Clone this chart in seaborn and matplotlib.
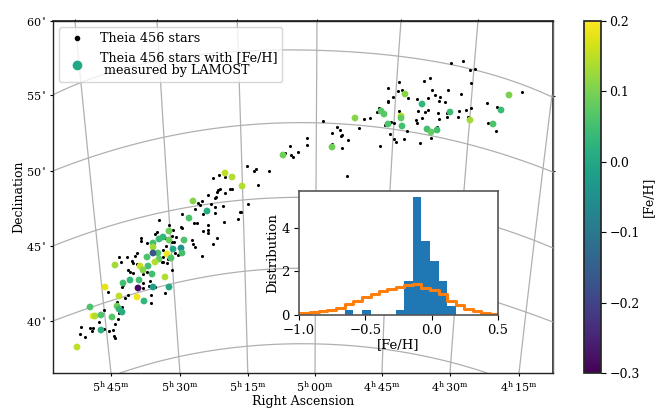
import numpy as np
import seaborn as sns
import matplotlib.pyplot as plt
from matplotlib.cm import ScalarMappable
from matplotlib.colors import Normalize
from matplotlib.lines import Line2D

# All sky positions are WCS pixel coordinates of the projected map
star_x = [159, 182, 197, 224, 208, 203, 208, 208, 213, 217, 192, 193, 195, 202, 176, 172, 173, 181, 157, 155,
          141, 141, 151, 152, 137, 135, 119, 127, 121, 132, 133, 137, 128, 130, 133, 140, 147, 143, 143, 150,
          149, 143, 155, 165, 172, 108, 122, 123, 151, 151, 128, 125, 104, 119, 122, 117, 118, 115, 81, 90,
          93, 92, 104, 109, 113, 80, 85, 114, 115, 99, 163, 163, 167, 162, 168, 175, 178, 183, 163, 172, 166,
          247, 256, 254, 269, 258, 213, 219, 225, 218, 220, 217, 225, 230, 232, 208, 215, 216, 202, 198, 200,
          211, 215, 223, 195, 203, 215, 240, 241, 248, 238, 194, 182, 169, 147, 163, 165, 174,
          290, 291, 293, 298, 285,
          451, 463, 470, 475, 471, 430, 424, 399, 388, 402, 398, 408, 393, 388, 388, 432, 435, 440, 428, 439,
          445, 448, 461, 417, 522, 487, 497, 471, 466, 459, 458, 447, 468, 447, 438, 439, 428, 425, 418, 422,
          416, 417, 399, 379, 377, 370, 364, 359, 323, 337, 340, 342, 341, 332, 348, 307, 307, 342, 347, 380,
          390, 394, 396, 404, 407, 394, 391, 385, 420, 431, 437, 488, 496, 332]
star_y = [220, 214, 223, 222, 225, 231, 230, 233, 244, 238, 240, 244, 247, 256, 237, 236, 230, 227, 232, 234,
          238, 241, 242, 250, 253, 256, 257, 257, 262, 261, 263, 264, 270, 272, 273, 267, 272, 274, 283, 281,
          286, 288, 287, 293, 270, 292, 287, 285, 295, 303, 295, 298, 310, 313, 307, 302, 319, 324, 327, 328,
          328, 331, 329, 331, 330, 334, 337, 336, 338, 322, 257, 262, 263, 262, 259, 253, 255, 253, 250, 242, 246,
          166, 169, 171, 171, 185, 178, 175, 177, 190, 189, 192, 193, 189, 189, 195, 198, 197, 201, 203, 205,
          204, 207, 206, 209, 214, 213, 212, 212, 204, 219, 223, 228, 225, 243, 235, 238, 242,
          146, 155, 157, 152, 153,
          63, 61, 70, 69, 83, 78, 81, 82, 88, 90, 91, 98, 97, 101, 102, 90, 95, 97, 98, 101,
          102, 90, 94, 99, 92, 103, 107, 108, 110, 111, 117, 117, 117, 113, 113, 119, 110, 112, 111, 118,
          120, 123, 111, 108, 112, 118, 119, 128, 121, 127, 130, 135, 136, 133, 140, 138, 145, 148, 176, 146,
          134, 139, 142, 139, 131, 123, 122, 125, 143, 138, 127, 123, 131, 144]

lamost_x = [405, 422, 450, 355, 381, 384, 401, 401, 388, 402, 427, 431, 437, 470, 493, 501, 509, 332, 283,
            225, 232, 242, 193, 207, 189, 169, 163, 159, 153, 169, 184, 153, 181, 173, 158, 153, 182, 167,
            147, 171, 159, 155, 115, 148, 140, 143, 152, 165, 139, 130, 123, 105, 153, 169, 138, 119, 137,
            144, 90, 117, 119, 122, 93, 95, 101, 112, 101, 77]
lamost_y = [94, 104, 112, 118, 111, 114, 116, 118, 124, 126, 129, 132, 130, 120, 124, 110, 95, 147, 155,
            173, 177, 186, 201, 211, 218, 231, 237, 239, 243, 240, 240, 247, 248, 249, 253, 253, 253, 254,
            257, 258, 259, 262, 265, 266, 266, 270, 274, 277, 280, 280, 283, 287, 287, 287, 288, 296, 297,
            301, 307, 306, 309, 312, 316, 316, 315, 317, 330, 347]
lamost_feh = [0.11, 0.03, 0.04, 0.11, 0.07, 0.07, 0.15, 0.08, 0.06, 0.05, 0.05, 0.08, 0.05, 0.13, 0.06, 0.04, 0.10, 0.09, 0.09,
              0.15, 0.14, 0.14, 0.11, 0.01, 0.06, 0.09, 0.03, 0.04, 0.05, 0.09, 0.06, 0.13, -0.05, 0.00, 0.06, -0.17, 0.05, 0.19,
              0.06, 0.06, 0.08, 0.14, 0.13, 0.05, 0.16, 0.11, 0.05, 0.14, 0.05, 0.03, 0.05, 0.18, -0.02, 0.00, -0.29, 0.15, 0.19,
              0.03, 0.06, 0.09, 0.03, 0.01, 0.19, 0.14, 0.06, 0.07, 0.02, 0.15]

# Histogram bins and heights of the inset
feh_edges = [-1.0, -0.917, -0.852, -0.787, -0.722, -0.656, -0.591, -0.526, -0.46, -0.4, -0.334, -0.271,
             -0.206, -0.141, -0.078, -0.013, 0.053, 0.116, 0.18, 0.244, 0.309, 0.372, 0.437, 0.5]
cluster_hist = [0, 0, 0, 0, 0, 0.24, 0, 0.24, 0, 0, 0, 0.24, 1.57, 5.42, 3.39, 2.47, 1.57, 0.43, 0, 0, 0, 0, 0]
field_hist = [0.08, 0.12, 0.17, 0.23, 0.34, 0.49, 0.66, 0.81, 0.98, 1.12, 1.19, 1.30,
              1.38, 1.41, 1.25, 1.15, 0.96, 0.64, 0.46, 0.26, 0.20, 0.11, 0.06]

# Curved coordinate grid
dec_grid = [
    [(53, 95), (117, 70), (200, 55), (293, 50), (317, 50), (397, 56), (475, 70), (540, 92), (553, 97)],
    [(53, 171), (163, 137), (240, 126), (300, 123), (393, 128), (460, 143), (540, 167), (553, 172)],
    [(53, 246), (130, 220), (170, 211), (243, 200), (297, 197), (400, 205), (498, 227), (510, 232), (553, 248)],
    [(53, 321), (107, 302), (173, 283), (240, 273), (305, 267), (400, 278), (498, 302), (510, 307), (553, 322)],
    [(120, 373), (178, 357), (247, 346), (315, 344), (340, 345), (383, 349), (450, 362), (487, 373)],
]
ra_grid = [
    [(75, 21), (88, 157), (93, 200), (111, 373)],
    [(157, 21), (168, 200), (180, 373)],
    [(237, 21), (242, 150), (244, 260), (248, 373)],
    [(317, 21), (316, 190), (315, 373)],
    [(401, 21), (390, 190), (382, 373)],
    [(478, 21), (464, 190), (450, 373)],
    [(552, 95), (538, 210), (519, 373)],
]

ra_ticks = [111, 180, 248, 315, 382, 450, 519]
ra_labels = [('5', '45'), ('5', '30'), ('5', '15'), ('5', '00'), ('4', '45'), ('4', '30'), ('4', '15')]
dec_ticks = [21, 95, 171, 246, 321]
dec_labels = [60, 55, 50, 45, 40]
top_ticks = [75, 157, 237, 317, 401, 478]
right_ticks = [96, 171]

sns.set_theme(style='ticks')
plt.rcParams['font.family'] = ['DejaVu Serif']
plt.rcParams['mathtext.fontset'] = 'dejavuserif'
plt.rcParams['text.color'] = 'black'
plt.rcParams['axes.labelcolor'] = 'black'
plt.rcParams['xtick.color'] = 'black'
plt.rcParams['ytick.color'] = 'black'

W, H = 664, 415
fig = plt.figure(figsize=(W / 100, H / 100), dpi=100)
ax = fig.add_axes([53 / W, 1 - 373 / H, 500 / W, 352 / H])

# Smooth the traced grid lines
for line in dec_grid:
    pts = np.array(line)
    xs = np.linspace(pts[0, 0], pts[-1, 0], 100)
    ax.plot(xs, np.polyval(np.polyfit(pts[:, 0], pts[:, 1], 4), xs), color='#b0b0b0', lw=0.9, zorder=1)
for line in ra_grid:
    pts = np.array(line)
    ys = np.linspace(pts[0, 1], pts[-1, 1], 50)
    ax.plot(np.polyval(np.polyfit(pts[:, 1], pts[:, 0], 2), ys), ys, color='#b0b0b0', lw=0.9, zorder=1)

norm = Normalize(-0.3, 0.2)
sns.scatterplot(x=star_x, y=star_y, color='black', s=5, linewidth=0, zorder=2, ax=ax)
sns.scatterplot(x=lamost_x, y=lamost_y, hue=lamost_feh, palette='viridis', hue_norm=(-0.3, 0.2),
                s=24, linewidth=0, legend=False, zorder=3, ax=ax)

ax.set_xlim(53, 553)
ax.set_ylim(373, 21)
ax.set_xticks(ra_ticks)
ax.set_xticklabels([f'${h}^{{\\mathrm{{h}}}}\\,{m}^{{\\mathrm{{m}}}}$' for h, m in ra_labels], fontsize=8)
ax.set_yticks(dec_ticks)
ax.set_yticklabels([f'${d}^\\circ$' for d in dec_labels], fontsize=8)
ax.tick_params(length=2.5, width=0.8, pad=2)
ax.set_xlabel('Right Ascension', fontsize=9, labelpad=1)
ax.set_ylabel('Declination', fontsize=9, labelpad=0.5)
for spine in ax.spines.values():
    spine.set_color('#222222')
    spine.set_linewidth(1.0)
ax.spines['right'].set_color('#666666')

top_axis = ax.secondary_xaxis('top')
top_axis.set_xticks(top_ticks)
top_axis.tick_params(labeltop=False, length=1.5, width=0.7)
right_axis = ax.secondary_yaxis('right')
right_axis.set_yticks(right_ticks)
right_axis.tick_params(labelright=False, length=1.5, width=0.7)

handles = [
    Line2D([], [], ls='', marker='o', color='black', ms=3),
    Line2D([], [], ls='', marker='o', color=plt.cm.viridis(norm(0.0)), mec='none', ms=7),
]
legend = ax.legend(handles, ['Theia 456 stars', 'Theia 456 stars with [Fe/H]\n measured by LAMOST'],
                   loc='upper left', fontsize=9.15, frameon=True, framealpha=0.8, edgecolor='#cccccc',
                   labelspacing=0.5, borderaxespad=0.47)
for text in legend.get_texts():
    text.set_linespacing(1.0)

# Inset with metallicity distribution
axins = fig.add_axes([299 / W, 1 - 315 / H, 199 / W, 124 / H])
centers = [(a + b) / 2 for a, b in zip(feh_edges[:-1], feh_edges[1:])]
sns.histplot(x=centers, weights=cluster_hist, bins=feh_edges, color='#1f77b4', alpha=1, linewidth=0, ax=axins)
sns.histplot(x=centers, weights=field_hist, bins=feh_edges, element='step', fill=False,
             color='#ff7f0e', linewidth=2.2, ax=axins)
axins.set_xlim(-1.0, 0.5)
axins.set_ylim(0, 5.7)
axins.set_xticks([-1.0, -0.5, 0.0, 0.5])
axins.set_yticks([0, 2, 4])
axins.tick_params(labelsize=9.5, length=3.5, width=0.8, pad=3)
axins.set_xlabel('[Fe/H]', fontsize=9.5, labelpad=1)
axins.set_ylabel('Distribution', fontsize=9.5, labelpad=2)
for spine in axins.spines.values():
    spine.set_visible(True)
    spine.set_color('#555555')
    spine.set_linewidth(1.2)

# Colorbar
cax = fig.add_axes([584 / W, 1 - 373 / H, 17 / W, 352 / H])
cbar = fig.colorbar(ScalarMappable(norm=norm, cmap='viridis'), cax=cax)
cbar.set_ticks([-0.3, -0.2, -0.1, 0.0, 0.1, 0.2])
cbar.ax.tick_params(labelsize=9, length=3.5, width=0.8, pad=2.5)
cbar.set_label('[Fe/H]', fontsize=9, labelpad=2)

plt.savefig('out.png', dpi=100)
